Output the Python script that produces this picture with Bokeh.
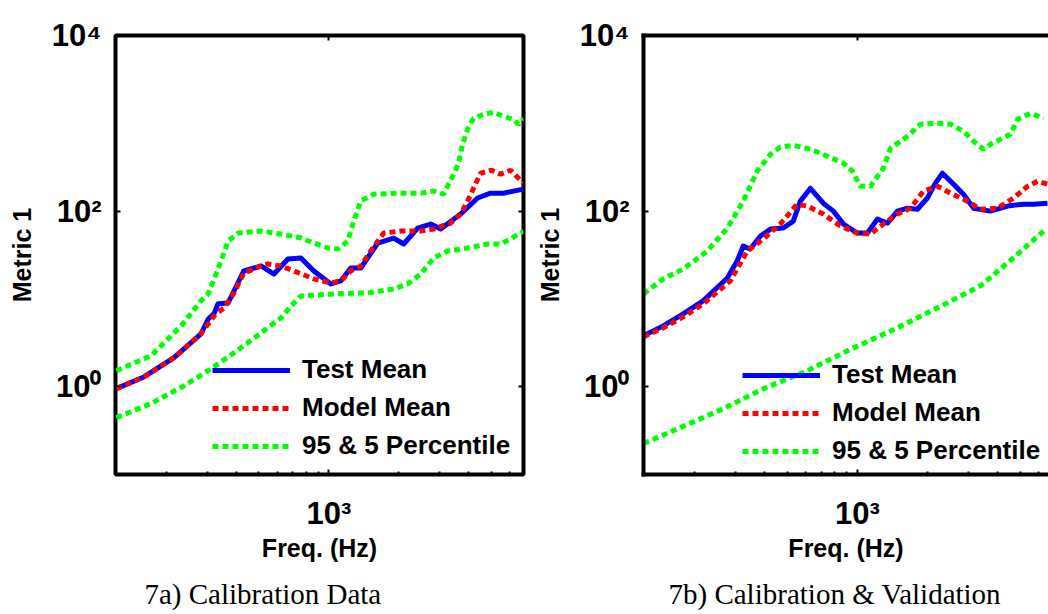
from bokeh.plotting import figure
from bokeh.layouts import row
from bokeh.models import (FixedTicker, CustomJSTickFormatter, Legend, LegendItem, LogAxis,
                          Range1d, Title)
from bokeh.embed import file_html
from bokeh.resources import INLINE

# ---------------- data: panel 7a (Calibration Data) ----------------
a_freq_test = [122, 161, 216, 282, 303, 321, 334, 369, 391, 431, 511, 581, 667, 759, 862,
               1020, 1126, 1242, 1372, 1623, 1901, 2099, 2410, 2741, 3026, 3686, 4360,
               4955, 5635, 6222, 6870]
a_test_mean = [0.95, 1.30, 2.14, 4.0, 5.9, 6.8, 8.8, 9.0, 12.3, 20.8, 23.7, 19.2, 28.5, 29.2,
               20.8, 14.8, 16.0, 22.5, 22.5, 43.3, 49.3, 42.2, 64.1, 71.2, 62.4, 92.5, 141,
               160, 160, 169, 178]
a_freq_model = [122, 161, 216, 282, 321, 354, 391, 431, 511, 547, 622, 708, 862, 1020, 1126,
                1242, 1372, 1514, 1722, 2037, 2483, 2823, 3340, 3686, 3950, 4190, 4490, 5010,
                5470, 6040, 6870]
a_model_mean = [0.95, 1.30, 2.14, 4.0, 6.4, 7.9, 11.7, 19.7, 23.7, 25.0, 23.7, 20.8, 16.9, 15.2,
                16.0, 20.8, 23.7, 35.1, 56.2, 59.3, 59.3, 62.4, 73.1, 92.5, 130, 182, 270, 292,
                263, 292, 208]
a_freq_p95 = [122, 172, 232, 282, 303, 344, 369, 407, 511, 622, 759, 862, 990, 1093, 1206, 1280,
              1372, 1560, 2037, 2483, 2823, 3117, 3438, 3614, 3758, 3950, 4190, 4625, 5105,
              5635, 6222, 6535, 6870]
a_p95 = [1.52, 2.25, 4.93, 9.49, 11.4, 27.0, 45.6, 56.2, 59.3, 54.8, 49.3, 43.3, 38.0, 37.0,
         45.6, 76.9, 130, 156, 160, 160, 169, 156, 263, 351, 577, 855, 1140, 1265, 1334, 1202,
         1110, 975, 1140]
a_freq_p05 = [122, 172, 239, 312, 419, 547, 622, 708, 759, 1051, 1470, 1901, 2183, 2483, 2823,
              3243, 3950, 4810, 5470, 6040, 6870]
a_p05 = [0.444, 0.641, 1.03, 1.60, 2.77, 4.68, 6.08, 9.01, 10.8, 11.4, 11.7, 13.0, 14.8, 19.2,
         29.2, 35.1, 38.0, 42.2, 42.2, 48.1, 59.3]

# ---------------- data: panel 7b (Calibration & Validation) ----------------
b_freq_test = [121, 147, 179, 218, 277, 305, 324, 347, 384, 424, 481, 531, 569, 629, 714, 789,
               871, 1000, 1104, 1218, 1346, 1485, 1640, 1810, 1996, 2162, 2316, 2583, 2851,
               3147, 3722, 4404, 5156, 5690, 6535]
b_test_mean = [3.80, 4.93, 6.76, 9.49, 17.3, 27.0, 40.0, 37.0, 52.0, 62.4, 64.1, 76.9, 130, 182,
               123, 100, 71.2, 56.2, 56.2, 81.1, 73.1, 100, 108, 105, 141, 208, 270, 203, 156,
               108, 100, 114, 120, 120, 123]
b_freq_model = [121, 147, 179, 218, 285, 337, 395, 467, 552, 610, 714, 845, 1000, 1137, 1293,
                1485, 1687, 1920, 2205, 2506, 2851, 3373, 3989, 4675, 5370, 5926, 6535]
b_model_mean = [3.70, 4.68, 6.24, 8.77, 16.0, 35.1, 48.1, 71.2, 120, 114, 92.5, 67.6, 56.2, 54.8,
                71.2, 92.5, 108, 169, 192, 160, 137, 105, 108, 141, 192, 219, 203]
b_freq_p95 = [121, 147, 179, 227, 277, 324, 372, 424, 467, 531, 629, 743, 871, 952, 1030, 1137,
              1293, 1386, 1640, 1864, 2205, 2506, 2851, 3147, 3474, 3722, 4109, 4537, 4866,
              5524, 6285]
b_p95 = [11.4, 16.9, 21.9, 35.1, 64.1, 130, 285, 444, 534, 562, 507, 422, 351, 285, 192, 192,
         308, 520, 711, 975, 1000, 975, 811, 624, 507, 577, 658, 750, 1110, 1300, 1140]
b_freq_p05 = [121, 174, 266, 395, 610, 906, 1485, 2433, 3373, 4404, 5156, 6285]
b_p05 = [0.225, 0.342, 0.562, 0.949, 1.52, 2.56, 4.68, 9.01, 14.1, 25.7, 37.0, 59.3]

# ---------------- axis / label text ----------------
y_ticks = [1, 100, 10000]
y_tick_labels = ["10\u2070", "10\u00b2", "10\u2074"]
x_ticks = [1000]
x_tick_labels = ["10\u00b3"]
x_minor = [200, 300, 400, 500, 600, 700, 800, 900, 2000, 3000, 4000, 5000, 6000]
legend_labels = ["Test Mean", "Model Mean", "95 & 5 Percentile"]
y_title = "Metric 1"
x_title = "Freq. (Hz)"

SANS = "Liberation Sans"
SERIF = "Liberation Serif"
X_START = 121


def bold_text(ax_obj, prefix, size):
    setattr(ax_obj, prefix + "_text_font", SANS)
    setattr(ax_obj, prefix + "_text_font_style", "bold")
    setattr(ax_obj, prefix + "_text_font_size", size)
    setattr(ax_obj, prefix + "_text_color", "black")


def panel(ft, t, fm, m, fh, h, fl, l, x_end, frame_w, mb_left, mb_right, boxed,
          legend_loc, caption, caption_off):
    p = figure(x_axis_type="log", y_axis_type="log",
               x_range=Range1d(X_START, x_end), y_range=Range1d(0.1, 10000),
               frame_width=frame_w, frame_height=439,
               min_border_left=mb_left, min_border_right=mb_right,
               min_border_top=35, min_border_bottom=140,
               output_backend="svg", toolbar_location=None,
               background_fill_color="white", border_fill_color="white")
    p.grid.visible = False
    empty = CustomJSTickFormatter(code="return ''")
    bottom = p.below[0]
    left = p.left[0]

    if boxed:
        p.outline_line_color = "black"
        p.outline_line_width = 4
    else:
        p.outline_line_color = None

    top = LogAxis()
    p.add_layout(top, "above")
    axes = [bottom, left, top]
    right = None
    if boxed:
        right = LogAxis()
        p.add_layout(right, "right")
        axes.append(right)
    for ax in axes:
        ax.formatter = empty
        ax.major_label_standoff = 0
        ax.major_tick_in = 5
        ax.major_tick_out = 0
        ax.minor_tick_in = 3
        ax.minor_tick_out = 0
        ax.major_tick_line_width = 2
        ax.minor_tick_line_width = 2
        ax.major_tick_line_color = "black"
        ax.minor_tick_line_color = "black"
        if boxed:
            ax.axis_line_color = None
        else:
            ax.axis_line_color = "black"
            ax.axis_line_width = 4
            ax.axis_line_cap = "square"
    for ax in [bottom, top]:
        ax.ticker = FixedTicker(ticks=x_ticks, minor_ticks=x_minor)
    left.ticker = FixedTicker(ticks=y_ticks)
    if right is not None:
        right.ticker = FixedTicker(ticks=y_ticks)
    top.minor_tick_line_color = None

    # tick labels (10^n)
    left.major_label_overrides = dict(zip(y_ticks, y_tick_labels))
    left.major_label_standoff = 14
    bold_text(left, "major_label", "31px")
    bottom.major_label_overrides = dict(zip(x_ticks, x_tick_labels))
    bottom.major_label_standoff = 21
    bold_text(bottom, "major_label", "31px")

    # axis titles
    left.axis_label = y_title
    left.axis_label_standoff = 13
    bold_text(left, "axis_label", "25px")
    bottom.axis_label = x_title
    bottom.axis_label_standoff = 0
    bold_text(bottom, "axis_label", "25px")

    # caption
    p.add_layout(Title(text=caption, align="left", offset=caption_off, standoff=23,
                       text_font=SERIF, text_font_style="normal", text_font_size="29px",
                       text_color="black"), "below")

    r_t = p.line(ft, t, line_color="#0000ff", line_width=5, line_join="round")
    r_m = p.line(fm, m, line_color="#ff0000", line_width=5, line_dash="6 4")
    r_h = p.line(fh, h, line_color="#00ff00", line_width=5, line_dash="6 4")
    p.line(fl, l, line_color="#00ff00", line_width=5, line_dash="6 4")

    leg = Legend(items=[LegendItem(label=legend_labels[0], renderers=[r_t]),
                        LegendItem(label=legend_labels[1], renderers=[r_m]),
                        LegendItem(label=legend_labels[2], renderers=[r_h])],
                 location=legend_loc, border_line_color=None, background_fill_alpha=0,
                 padding=0, margin=0, spacing=7, glyph_width=78, glyph_height=30,
                 label_height=30, label_standoff=12, label_text_font=SANS,
                 label_text_font_style="bold", label_text_font_size="26px",
                 label_text_color="black")
    p.add_layout(leg)
    return p


p1 = panel(a_freq_test, a_test_mean, a_freq_model, a_model_mean, a_freq_p95, a_p95,
           a_freq_p05, a_p05, 6870, 408, 115, 7, True, (97, 13),
           "7a) Calibration Data", 29)
p2 = panel(b_freq_test, b_test_mean, b_freq_model, b_model_mean, b_freq_p95, b_p95,
           b_freq_p05, b_p05, 6600, 405, 113, 0, False, (99, 8),
           "7b) Calibration & Validation", 25)

layout = row(p1, p2, spacing=0)
open("out.html", "w").write(file_html(layout, INLINE))
